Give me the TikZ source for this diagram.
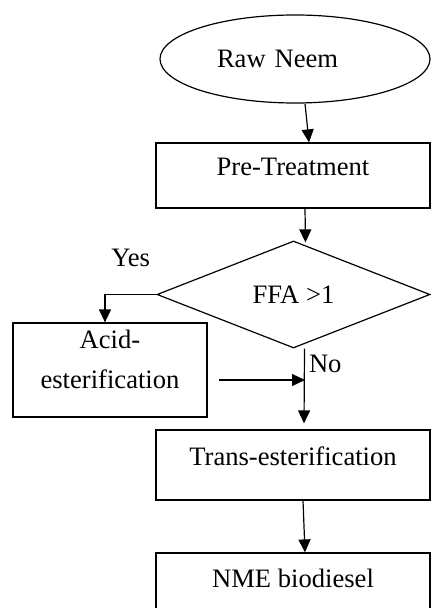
\documentclass[tikz,border=0pt]{standalone}
\usepackage{fontspec}
\setmainfont{Liberation Serif}
\usetikzlibrary{shapes.geometric, arrows.meta}
\tikzset{
    procbox/.style={shape=rectangle, draw=black, line width=0.6pt, minimum width=137pt, minimum height=32.5pt, text height=9pt, text depth=9pt, inner sep=0pt},
    arr/.style={draw=black, line width=0.6pt, -{Triangle[width=6pt,length=6.5pt]}}}

\begin{document}
\begin{tikzpicture}[x=0.5pt, y=-0.5pt, font=\fontsize{13.3pt}{20pt}\selectfont]
    \useasboundingbox (0,0) rectangle (431,608);
    \clip (0,0) rectangle (431,608);

    \node[shape=ellipse, draw=black, line width=0.6pt, minimum width=135pt, minimum height=44pt, text width=78pt, align=left] (raw) at (295,59) {Raw Neem};
    \node[procbox] (pre) at (293,175.5) {Pre-Treatment};
    \node[shape=diamond, draw=black, line width=0.6pt, minimum width=136.5pt, minimum height=53.5pt, inner sep=0pt] (ffa) at (293.5,294.5) {FFA >1};
    \node[shape=rectangle, draw=black, line width=0.6pt, minimum width=97pt, minimum height=47pt, inner sep=0pt, align=center, text depth=11pt] (acid) at (110,370) {Acid-\\esterification};
    \node[procbox, minimum height=35pt] (trans) at (293,465) {Trans-esterification};
    \node[procbox, minimum height=34pt] (nme) at (293,587) {NME biodiesel};
    \coordinate (join) at (305,380);

    \draw[arr] ([xshift=5pt]raw.south) -- ([xshift=8pt]pre.north);
    \draw[arr] ([xshift=6pt]pre.south) -- ([xshift=6pt,yshift=-1pt]ffa.north);
    \draw[arr] (ffa.west) -| node[pos=0.25, above=10pt] {Yes} ([xshift=-2.5pt]acid.north);
    \draw[arr] ([xshift=5.5pt]ffa.south) -- ([xshift=5.5pt,yshift=3pt]trans.north) node[pos=0.21, right, inner sep=2pt] {No};
    \draw[arr, shorten <=5.5pt] (acid.east |- join) -- (join);
    \draw[arr] ([xshift=5pt]trans.south) -- ([xshift=6pt]nme.north);

\end{tikzpicture}
\end{document}
